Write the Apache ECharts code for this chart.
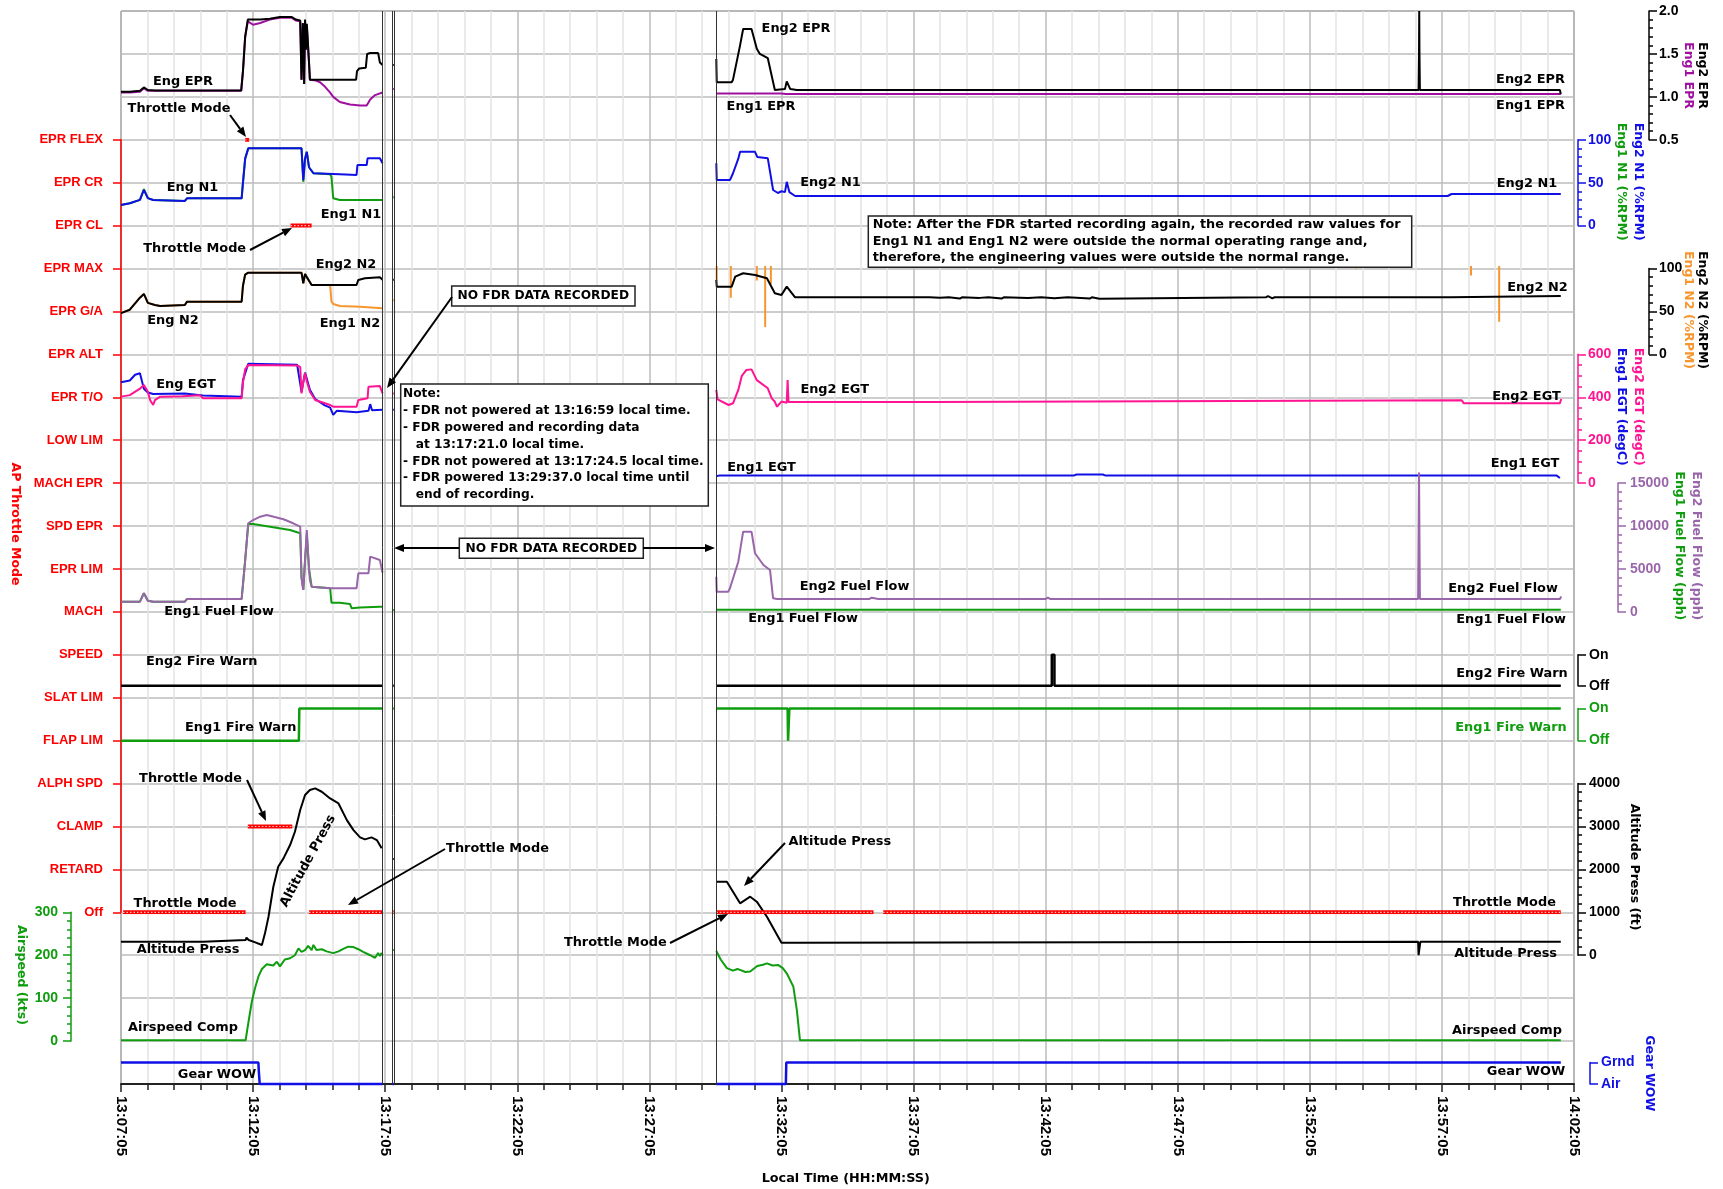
<!DOCTYPE html>
<html>
<head>
<meta charset="utf-8">
<title>FDR Engine, Throttle Mode and Flight Parameters</title>
<script src="https://cdn.jsdelivr.net/npm/echarts@6.0.0/dist/echarts.min.js"></script>
<style>
  html, body { margin: 0; padding: 0; background: #ffffff; }
  #chart { width: 1723px; height: 1189px; }
</style>
</head>
<body>
<div id="chart"></div>
<script>
// Times are seconds after 13:07:05 local time; null marks a break in recording.
const timeLabels = ['13:07:05','13:12:05','13:17:05','13:22:05','13:27:05','13:32:05',
                    '13:37:05','13:42:05','13:47:05','13:52:05','13:57:05','14:02:05'];
const throttleModes = ['EPR FLEX','EPR CR','EPR CL','EPR MAX','EPR G/A','EPR ALT','EPR T/O',
                       'LOW LIM','MACH EPR','SPD EPR','EPR LIM','MACH','SPEED','SLAT LIM',
                       'FLAP LIM','ALPH SPD','CLAMP','RETARD','Off'];
const fireLabels = ['Off', 'On'];
const wowLabels = ['Air', 'Grnd'];
// FDR power-off / power-on instants
const recordingBounds = [594, 616, 619.5, 1352];

const eng2Epr = [
  [0,1.06],[20,1.06],[43,1.07],[52,1.11],[61,1.08],[77,1.075],[179,1.075],[273,1.075],[277,1.3],[282,1.7],
  [288,1.9],[316,1.9],[338,1.91],[361,1.93],[388,1.93],[397,1.9],[407,1.89],[410,1.2],[413,1.86],[416,1.15],
  [418,1.9],[420,1.55],[422,1.85],[427,1.4],[429,1.2],[452,1.2],[497,1.2],[534,1.2],[536,1.3],[541,1.33],
  [556,1.34],[559,1.5],[566,1.51],[584,1.51],[588,1.4],[594,1.37],
  null,[616,1.37],[619.5,1.37],null,
  [1352,1.44],[1353,1.17],[1387,1.17],[1390,1.2],[1406,1.6],[1413,1.79],[1432,1.79],[1444,1.56],[1451,1.5],
  [1469,1.45],[1485,1.08],[1508,1.09],[1512,1.18],[1515,1.18],[1520,1.09],[1535,1.08],[2947,1.08],
  [2948,1.52],[2948.5,2.0],[2949,1.52],[2950,1.08],[3268,1.08],[3270,1.03]
];
const eng1Epr = [
  [0,1.05],[20,1.05],[43,1.06],[52,1.1],[61,1.07],[77,1.07],[179,1.07],[273,1.07],[277,1.3],[282,1.7],
  [288,1.88],[300,1.84],[316,1.86],[338,1.9],[361,1.92],[388,1.92],[397,1.89],[407,1.88],[410,1.2],[413,1.85],
  [416,1.15],[418,1.88],[420,1.55],[422,1.84],[427,1.4],[429,1.2],[443,1.19],[452,1.17],[463,1.12],[475,1.05],
  [482,1.0],[497,0.94],[520,0.91],[543,0.9],[558,0.9],[566,0.97],[577,1.02],[594,1.05],
  null,[616,1.09],[619.5,1.09],null,
  [1352,1.04],[1500,1.04],[1510,1.033],[3270,1.033]
];
const eng2N1 = [
  [0,24],[20,26],[43,30],[52,41.5],[61,32],[73,29.8],[145,28.7],[150,31.8],[274,31.8],[277,50],[282,78],
  [289,90],[410,90],[414,53],[418,78],[422,86],[427,68],[437,61],[441,59.8],[497,59.8],[535,59],[537,70.6],
  [558,70.6],[560,78.4],[588,78.4],[594,72.6],
  null,
  [1352,72.6],[1353,53],[1383,53],[1390,61],[1402,78],[1406,86],[1440,86],[1445,80],[1469,78.4],[1481,41.5],
  [1492,38],[1500,40],[1508,39],[1512,51],[1518,39],[1531,34.5],[2400,34.5],[2403,33],[2406,34.5],
  [3005,34.5],[3009,33],[3013,34.5],[3022,36.8],[3270,36.8]
];
const eng1N1 = [
  [0,24],[20,26],[43,30],[52,42.5],[61,32],[73,29.8],[145,28.7],[150,31.8],[274,31.8],[277,50],[282,78],
  [289,90],[410,90],[414,51],[418,78],[422,86],[427,68],[437,61],[441,59.8],[475,59.8],[478,57],[482,31.8],
  [497,29.8],[594,29.8],
  null,[616,33],[619.5,33]
];
const eng2N2 = [
  [0,48],[20,52],[43,66],[52,70.4],[61,60],[77,57.5],[89,56.4],[145,57.5],[150,61.4],[274,61.4],[277,80],
  [282,93],[289,95.2],[410,95.2],[414,82.8],[418,93.7],[422,90],[433,80.8],[475,80.8],[535,80.8],[539,86.7],
  [554,88.7],[588,89.8],[594,87],
  null,[616,87],[619.5,87],null,
  [1352,86.7],[1353,78.9],[1387,78.9],[1395,90.5],[1413,94.5],[1440,92.5],[1467,88.7],[1485,71.2],[1500,69.2],
  [1512,78.9],[1531,66.5],[1790,66.5],[1792,64.5],[1794,66.5],[1830,66.5],[1833,64.3],[1836,66.5],[1860,66],
  [1880,66.5],[1905,65],[1910,66.5],[1950,65.8],[1970,66.5],[2000,65],[2005,66.5],[2060,65.8],[2090,66.5],
  [2120,65.5],[2150,66.5],[2200,65],[2205,66.5],[2222,64.8],[2225,66.5],[2600,66.5],[2605,67.8],[2615,65.3],
  [2620,66.5],[2900,66.5],[2903,68.3],[2906,66.5],[3020,66.5],[3022,68],[3270,68]
];
const eng1N2 = [
  [0,48],[20,52],[43,66],[52,70.4],[61,60],[77,57.5],[89,56.4],[145,57.5],[150,61.4],[274,61.4],[277,80],
  [282,93],[289,95.2],[410,95.2],[414,82.8],[418,93.7],[422,90],[433,80.8],[475,80.8],[478,61.4],[482,58.7],
  [497,56.4],[543,55.5],[594,53.7],
  null,[616,63],[619.5,63],null,
  [1353,103],[1353,86],null,[1385,103],[1385,66],null,[1444,103],[1444,86],null,[1463,103],[1463,32],null,
  [1476,103],[1476,82],null,[1703,103],[1703,101],null,[2805,103],[2805,100],null,[3066,103],[3066,92],null,
  [3130,103],[3130,38]
];
const eng2Egt = [
  [0,403],[20,410],[43,440],[52,457],[61,426],[66,387],[73,364],[77,387],[89,403],[140,405],[179,410],
  [186,395],[274,395],[277,470],[282,530],[289,550],[400,548],[407,542],[410,418],[414,470],[418,512],
  [422,475],[429,426],[441,387],[475,364],[482,356],[535,356],[539,387],[560,395],[562,449],[588,452],[594,418],
  null,[616,418],[619.5,418],null,
  [1352,434],[1355,390],[1380,364],[1390,372],[1402,434],[1410,500],[1420,527],[1432,530],[1444,480],
  [1469,442],[1478,395],[1485,379],[1490,356],[1500,380],[1512,375],[1514,480],[1516,378],[1530,378],
  [1846,378],[1850,386],[3045,386],[3050,372],[3268,372],[3271,392]
];
const eng1Egt = [
  [0,470],[20,478],[32,505],[43,512],[52,440],[61,422],[73,415],[145,418],[186,408],[274,402],[277,480],
  [289,556],[400,552],[410,425],[418,515],[429,435],[441,392],[463,362],[475,352],[482,318],[490,337],
  [535,330],[562,337],[566,368],[570,340],[594,342],
  null,[616,342],[619.5,342],null,
  [1352,32],[1360,36],[2165,36],[2170,40],[2230,40],[2235,36],[3260,36],[3268,24]
];
const eng2FuelFlow = [
  [0,1188],[43,1188],[52,2167],[61,1305],[73,1188],[145,1188],[150,1503],[274,1503],[282,6000],[289,10322],
  [300,10700],[316,11091],[331,11289],[369,10788],[391,10322],[407,9926],[410,4000],[414,2551],[418,6000],
  [422,9541],[427,5000],[429,3716],[433,2936],[475,2749],[535,2749],[539,4497],[562,4497],[566,6431],
  [588,6046],[594,4567],
  null,
  [1352,4101],[1353,2353],[1379,2353],[1383,2749],[1402,5848],[1413,9343],[1432,9343],[1440,6827],
  [1459,5464],[1474,4881],[1481,1584],[1490,1503],[1700,1503],[1705,1650],[1720,1503],[2100,1503],
  [2105,1650],[2110,1503],[2946,1503],[2948,16228],[2950,1503],[3268,1503],[3271,1800]
];
const eng1FuelFlow = [
  [0,1188],[43,1188],[52,2167],[61,1305],[73,1188],[145,1188],[150,1503],[274,1503],[282,6000],[289,10240],
  [300,10240],[384,9541],[407,9157],[410,4000],[414,2551],[418,6000],[422,9000],[427,5000],[433,2936],
  [437,2866],[475,2749],[478,1072],[497,1072],[520,920],[524,419],[543,500],[588,606],[594,606],
  null,[616,221],[619.5,221],null,
  [1352,260],[3270,260]
];
const eng2FireWarn = [
  [0,0],[594,0],null,[616,0],[619.5,0],null,
  [1352,0],[2114,0],[2114,1],[2120,1],[2120,0],[3270,0]
];
const eng1FireWarn = [
  [0,0],[404,0],[405,1],[594,1],null,[616,1],[619.5,1],null,
  [1352,1],[1514,1],[1515,0],[1517,0],[1518,1],[3270,1]
];
const throttleSegments = [
  [4.5,283,'Off'],[282,291,'EPR FLEX'],[288,389,'CLAMP'],[385,433,'EPR CL'],[427,594,'Off'],
  [616,619.5,'Off'],[1352,1709,'Off'],[1731,3270,'Off']
];
const altitudePress = [
  [0,314],[187,314],[188,354],[283,354],[285,408],[290,354],[305,300],[320,238],[327,510],[335,897],
  [346,1596],[357,2062],[369,2257],[384,2567],[395,2877],[407,3383],[418,3732],[429,3849],[441,3887],
  [456,3809],[475,3654],[494,3537],[513,3149],[528,2916],[543,2746],[554,2700],[569,2746],[581,2684],[592,2490],
  null,[616,2240],[619.5,2240],null,
  [1352,1712],[1376,1712],[1406,1209],[1429,1364],[1444,1248],[1467,898],[1500,291],[1531,291],[1535,314],
  [2946,314],[2947,0],[2950,0],[2951,314],[3270,314]
];
const airspeedComp = [
  [0,2],[283,2],[289,41],[297,91],[304,122],[312,150],[320,168],[331,179],[346,176],[354,185],[361,174],
  [372,190],[384,193],[395,200],[403,216],[410,208],[418,212],[425,222],[433,212],[437,224],[444,212],
  [456,214],[467,209],[482,205],[494,209],[505,215],[516,220],[528,219],[539,214],[550,208],[566,200],
  [577,194],[584,205],[588,198],[592,205],[594,200],
  null,[616,212],[619.5,212],null,
  [1352,210],[1362,190],[1376,170],[1390,164],[1400,168],[1406,166],[1418,161],[1429,162],[1445,175],
  [1458,178],[1467,181],[1480,176],[1493,177],[1503,170],[1512,158],[1527,127],[1535,72],[1542,2],[3270,2]
];
const gearWow = [
  [0,1],[312,1],[313,0.6],[315,0],[594,0],null,[616,0],[619.5,0],null,
  [1352,0],[1510,0],[1511,1],[3270,1]
];

// ---------- layout and styling ----------
const C = {
  black: '#000000', purple: '#a010a0', blue: '#1010e6', green: '#0f9d0f', orange: '#f7962f',
  pink: '#ff1493', ffPurple: '#9966aa', red: '#ff0000', grid: '#bdbdbd', minor: '#e4e4e4'
};
const FONT_FAMILY = '"Liberation Sans", Arial, Helvetica, sans-serif';
const TEXT_FAMILY = '"DejaVu Sans", Verdana, sans-serif';
const tfont = (s) => 'bold ' + s + 'px ' + TEXT_FAMILY;
const TOP = 11, ROW = 42.92, LEFT = 121, WIDTH = 1453, T_MAX = 3300;
const rowY = (k) => TOP + ROW * k;
const withGaps = (arr) => arr.map(p => p === null ? ['-', '-'] : p);
const plain = (v) => String(v);

const grids = [], xAxes = [], yAxes = [], series = [];

// main frame: horizontal band rules and the time axis
grids.push({ left: LEFT, top: TOP, width: WIDTH, height: ROW * 25, show: true,
  borderColor: '#555', borderWidth: 1, backgroundColor: '#ffffff', outerBoundsMode: 'none' });
xAxes.push({ type: 'value', gridIndex: 0, min: 0, max: T_MAX, interval: 300, position: 'bottom',
  axisLine: { show: true, onZero: false, lineStyle: { color: '#222', width: 2 } },
  axisTick: { show: true, length: 8, lineStyle: { color: '#222', width: 1.5 } },
  minorTick: { show: true, splitNumber: 5, length: 6, lineStyle: { color: '#222', width: 1.5 } },
  splitLine: { show: true, lineStyle: { color: C.grid, width: 1.5 } },
  minorSplitLine: { show: true, lineStyle: { color: C.minor, width: 1.5 } },
  axisLabel: { rotate: -90, margin: 12, color: '#000', fontFamily: FONT_FAMILY, fontWeight: 'bold',
    fontSize: 15, hideOverlap: false, formatter: (v) => timeLabels[Math.round(v / 300)] || '' } });
yAxes.push({ type: 'value', gridIndex: 0, min: 0, max: 25, interval: 1, inverse: true,
  axisLine: { show: false }, axisTick: { show: false }, axisLabel: { show: false },
  splitLine: { show: true, lineStyle: { color: C.grid, width: 1.5 } } });

function addGrid(top, height, yAxis) {
  const i = grids.length;
  grids.push({ left: LEFT, top: top, width: WIDTH, height: height, show: false, outerBoundsMode: 'none' });
  xAxes.push({ type: 'value', gridIndex: i, min: 0, max: T_MAX, show: false });
  yAxes.push(Object.assign({ gridIndex: i }, yAxis));
  return i;
}
function valueAxis(side, offset, min, max, interval, minorSplit, color, formatter, margin) {
  return {
    type: 'value', position: side, offset: offset, min: min, max: max, interval: interval,
    axisLine: { show: true, onZero: false, lineStyle: { color: color, width: 1.5 } },
    axisTick: { show: true, length: 8, lineStyle: { color: color, width: 1.5 } },
    minorTick: { show: minorSplit > 0, splitNumber: minorSplit || 1, length: 4, lineStyle: { color: color, width: 1.5 } },
    splitLine: { show: false }, minorSplitLine: { show: false },
    axisLabel: { color: color, fontFamily: FONT_FAMILY, fontWeight: 'bold', fontSize: 14,
      margin: margin || 10, formatter: formatter || plain }
  };
}
function addLine(gi, data, color, width, extra) {
  series.push(Object.assign({
    type: 'line', xAxisIndex: gi, yAxisIndex: gi, data: withGaps(data), showSymbol: false, symbol: 'none',
    clip: false, animation: false, silent: true, connectNulls: false,
    lineStyle: { color: color, width: width || 2 }
  }, extra || {}));
}

const gEpr   = addGrid(rowY(0), 3 * ROW, valueAxis('right', 75, 0.5, 2.0, 0.5, 5, C.black, v => v.toFixed(1)));
const gN1    = addGrid(rowY(3), 2 * ROW, valueAxis('right', 4, 0, 100, 50, 5, C.blue));
const gN2    = addGrid(rowY(6), 2 * ROW, valueAxis('right', 75, 0, 100, 50, 5, C.black));
const gEgt   = addGrid(rowY(8), 3 * ROW, valueAxis('right', 4, 0, 600, 200, 4, C.pink));
const gFf    = addGrid(rowY(11), 3 * ROW, valueAxis('right', 44, 0, 15000, 5000, 5, C.ffPurple, null, 12));
const gFire2 = addGrid(rowY(15), 0.72 * ROW, valueAxis('right', 4, 0, 1, 1, 0, C.black, v => fireLabels[v], 11));
const gFire1 = addGrid(rowY(17) - 0.75 * ROW, 0.75 * ROW, valueAxis('right', 4, 0, 1, 1, 0, C.green, v => fireLabels[v], 11));
const gThr   = addGrid(rowY(3), 18 * ROW, {
  type: 'category', data: throttleModes, boundaryGap: false, inverse: true, position: 'left', offset: 4,
  axisLine: { show: true, lineStyle: { color: C.red, width: 1.5 } },
  axisTick: { show: true, length: 8, interval: 0, lineStyle: { color: C.red, width: 1.5 } },
  axisLabel: { show: true, interval: 0, color: C.red, fontFamily: FONT_FAMILY, fontWeight: 'bold', fontSize: 13, margin: 14 },
  splitLine: { show: false }
});
const gAlt   = addGrid(rowY(18), 4 * ROW, valueAxis('right', 4, 0, 4000, 1000, 5, C.black, null, 11));
const gAir   = addGrid(rowY(21), 3 * ROW, valueAxis('left', 50, 0, 300, 100, 5, C.green, null, 13));
const gWow   = addGrid(rowY(24.5), 0.5 * ROW, valueAxis('right', 16, 0, 1, 1, 0, C.blue, v => wowLabels[v], 11));

// recording power-off / power-on markers across the whole plot
series.push({ type: 'line', xAxisIndex: 0, yAxisIndex: 0, data: [], silent: true, animation: false,
  markLine: { symbol: ['none', 'none'], silent: true, animation: false, label: { show: false },
    lineStyle: { color: '#333', width: 1, type: 'solid' },
    data: recordingBounds.map(t => ({ xAxis: t })) } });

addLine(gEpr, eng1Epr, C.purple);
addLine(gEpr, eng2Epr, C.black);
addLine(gN1, eng1N1, C.green);
addLine(gN1, eng2N1, C.blue);
addLine(gN2, eng1N2, C.orange);
addLine(gN2, eng2N2, C.black);
addLine(gEgt, eng1Egt, C.blue);
addLine(gEgt, eng2Egt, C.pink);
addLine(gFf, eng1FuelFlow, C.green);
addLine(gFf, eng2FuelFlow, C.ffPurple);
addLine(gFire2, eng2FireWarn, C.black, 2.5);
addLine(gFire1, eng1FireWarn, C.green, 2.5);
addLine(gAlt, altitudePress, C.black);
addLine(gAir, airspeedComp, C.green);
addLine(gWow, gearWow, C.blue, 2.5);

const throttleData = [];
throttleSegments.forEach(s => {
  const idx = throttleModes.indexOf(s[2]);
  throttleData.push([s[0], idx], [s[1], idx], null);
});
addLine(gThr, throttleData, C.red, 4);
addLine(gThr, throttleData, '#ffc4c4', 1.2, { lineStyle: { color: '#ffc4c4', width: 1.2, type: [1.5, 2] } });

// ---------- text, boxes and arrows ----------
function txt(text, x, y, color, size, rot, align) {
  const a = align || 'center';
  return { type: 'text', x: x, y: y, rotation: rot || 0, z: 100, silent: true,
    style: { text: text, x: 0, y: 0, fill: color || '#000', font: tfont(size || 12.9),
      align: a, verticalAlign: 'middle', textAlign: a, textVerticalAlign: 'middle' } };
}
function vTitle(text, x, y, color) { return txt(text, x, y, color, 12.5, -Math.PI / 2); }
function arrow(x1, y1, x2, y2) {
  const a = Math.atan2(y2 - y1, x2 - x1), L = 10, W = 4;
  const bx = x2 - L * Math.cos(a), by = y2 - L * Math.sin(a);
  return [
    { type: 'line', z: 100, silent: true, shape: { x1: x1, y1: y1, x2: bx, y2: by }, style: { stroke: '#000', lineWidth: 2 } },
    { type: 'polygon', z: 100, silent: true,
      shape: { points: [[x2, y2], [bx + W * Math.sin(a), by - W * Math.cos(a)], [bx - W * Math.sin(a), by + W * Math.cos(a)]] },
      style: { fill: '#000' } }
  ];
}
function box(x1, y1, x2, y2) {
  return { type: 'rect', z: 99, silent: true, shape: { x: x1, y: y1, width: x2 - x1, height: y2 - y1 },
    style: { fill: '#ffffff', stroke: '#222', lineWidth: 1.5 } };
}

const noteLines1 = ['Note:', '- FDR not powered at 13:16:59 local time.', '- FDR powered and recording data',
  '   at 13:17:21.0 local time.', '- FDR not powered at 13:17:24.5 local time.',
  '- FDR powered 13:29:37.0 local time until', '   end of recording.'];
const noteLines2 = ['Note: After the FDR started recording again, the recorded raw values for',
  'Eng1 N1 and Eng1 N2 were outside the normal operating range and,',
  'therefore, the engineering values were outside the normal range.'];

const graphics = [];
// axis titles
graphics.push(
  vTitle('Eng2 EPR', 1702.5, 75.5, C.black), vTitle('Eng1 EPR', 1688, 75.5, C.purple),
  vTitle('Eng2 N1 (%RPM)', 1638.7, 181.7, C.blue), vTitle('Eng1 N1 (%RPM)', 1621, 181.7, C.green),
  vTitle('Eng2 N2 (%RPM)', 1702.5, 310, C.black), vTitle('Eng1 N2 (%RPM)', 1688, 310, C.orange),
  vTitle('Eng2 EGT (degC)', 1638.7, 406.7, C.pink), vTitle('Eng1 EGT (degC)', 1621, 406.7, C.blue),
  vTitle('Eng2 Fuel Flow (pph)', 1696, 545.8, C.ffPurple), vTitle('Eng1 Fuel Flow (pph)', 1679, 545.8, C.green),
  vTitle('Altitude Press (ft)', 1634.7, 867, C.black), vTitle('Gear WOW', 1649, 1073.3, C.blue),
  vTitle('AP Throttle Mode', 15.3, 524, C.red), vTitle('Airspeed (kts)', 21, 975, C.green),
  txt('Local Time (HH:MM:SS)', 845.8, 1178.3, '#000', 12.8)
);
// trace names, first recording
graphics.push(
  txt('Throttle Mode', 179, 109), txt('Eng EPR', 183, 82), txt('Eng N1', 192.5, 188),
  txt('Eng1 N1', 351, 215), txt('Throttle Mode', 194.7, 248.3), txt('Eng2 N2', 346, 265),
  txt('Eng N2', 173, 320.7), txt('Eng1 N2', 350, 323.3), txt('Eng EGT', 186, 385),
  txt('Eng1 Fuel Flow', 219, 611.7), txt('Eng2 Fire Warn', 201.7, 661.7), txt('Eng1 Fire Warn', 240.7, 727.7),
  txt('Throttle Mode', 190.5, 778.3), txt('Altitude Press', 308, 861, '#000', 12.9, 1.073),
  txt('Throttle Mode', 185, 903.3), txt('Altitude Press', 188, 949.3), txt('Airspeed Comp', 183, 1027.7),
  txt('Gear WOW', 217, 1075), txt('Throttle Mode', 497.5, 848.3)
);
// trace names, second recording
graphics.push(
  txt('Eng2 EPR', 796, 29), txt('Eng1 EPR', 761, 106.7), txt('Eng2 N1', 830.5, 182.7),
  txt('Eng2 EGT', 834.7, 390), txt('Eng1 EGT', 761.6, 467.4), txt('Eng2 Fuel Flow', 854.5, 587),
  txt('Eng1 Fuel Flow', 803, 619), txt('Altitude Press', 839.8, 841.7), txt('Throttle Mode', 615.3, 942.7),
  txt('Eng2 EPR', 1530.5, 79.5), txt('Eng1 EPR', 1530.5, 106), txt('Eng2 N1', 1527, 184),
  txt('Eng2 N2', 1537.5, 287.3), txt('Eng2 EGT', 1526.5, 396.7), txt('Eng1 EGT', 1525, 463.5),
  txt('Eng2 Fuel Flow', 1503, 588.3), txt('Eng1 Fuel Flow', 1511, 619.3), txt('Eng2 Fire Warn', 1512, 673.3),
  txt('Eng1 Fire Warn', 1511, 727.7, C.green), txt('Throttle Mode', 1504.5, 902.7),
  txt('Altitude Press', 1505.7, 954), txt('Airspeed Comp', 1507, 1030.5), txt('Gear WOW', 1526, 1071.7)
);
// boxes and notes
graphics.push(box(451.7, 286, 635, 306), txt('NO FDR DATA RECORDED', 543.3, 296.3, '#000', 12.2));
graphics.push(box(459.3, 538.3, 643.3, 558.3), txt('NO FDR DATA RECORDED', 551.3, 548.5, '#000', 12.2));
graphics.push(box(400.7, 384, 708.3, 506));
noteLines1.forEach((l, i) => graphics.push(txt(l, 403, 394 + 16.85 * i, '#000', 12.2, 0, 'left')));
graphics.push(box(868.3, 216, 1411.7, 267.3));
noteLines2.forEach((l, i) => graphics.push(txt(l, 872.7, 224.5 + 16.8 * i, '#000', 12.8, 0, 'left')));
// leader arrows
[
  [230, 115, 246, 137], [250, 250, 292, 228], [247, 780, 266, 821], [445, 849, 348, 905],
  [452, 297, 387, 388], [459, 548, 394, 548], [643, 548, 715, 548], [785, 843, 744, 886], [670, 943, 728, 914]
].forEach(a => arrow(a[0], a[1], a[2], a[3]).forEach(g => graphics.push(g)));

const chart = echarts.init(document.getElementById('chart'));
chart.setOption({
  animation: false,
  backgroundColor: '#ffffff',
  grid: grids,
  xAxis: xAxes,
  yAxis: yAxes,
  series: series,
  graphic: { elements: graphics }
});
</script>
</body>
</html>
